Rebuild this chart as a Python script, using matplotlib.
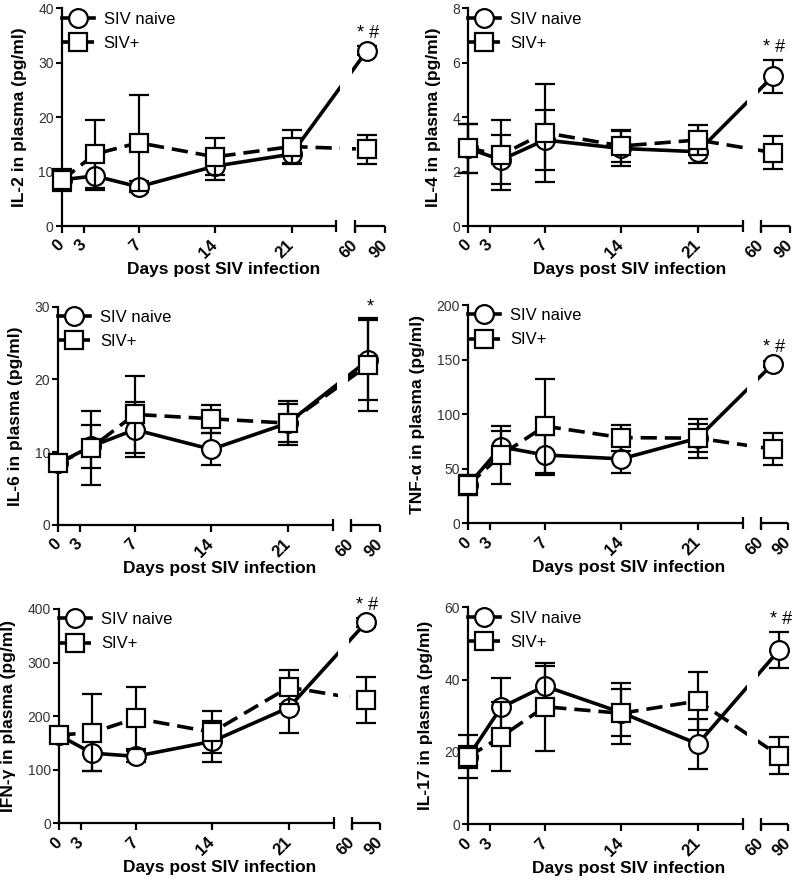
import numpy as np
import matplotlib
matplotlib.use('Agg')
import matplotlib.pyplot as plt
from matplotlib.lines import Line2D

plt.rcParams['font.family'] = ['Liberation Sans', 'DejaVu Sans']

# ---------------- data ----------------
days = [0, 3, 7, 14, 21]
last_day = [72, 72, 78, 73, 75, 80]          # position of the 60-90 day sample per panel
tick_pos = [0, 2, 7, 14, 21, 60, 90]
tick_labels = ['0', '3', '7', '14', '21', '60', '90']

ylabels = ['IL-2 in plasma (pg/ml)', 'IL-4 in plasma (pg/ml)', 'IL-6 in plasma (pg/ml)',
           'TNF-\u03b1 in plasma (pg/ml)', 'IFN-\u03b3 in plasma (pg/ml)', 'IL-17 in plasma (pg/ml)']
ymax = [40, 8, 30, 200, 400, 60]
ystep = [10, 2, 10, 50, 100, 20]
stars = ['* #', '* #', '*', '* #', '* #', '* #']

il2_naive = [8.5, 9.2, 7.2, 11.0, 13.2, 32.2]
il2_naive_err = [1.5, 2.6, 1.0, 2.5, 1.8, 0.8]
il2_pos = [8.4, 13.2, 15.3, 12.7, 14.6, 14.1]
il2_pos_err = [2.0, 6.3, 8.8, 3.4, 3.0, 2.7]

il4_naive = [2.85, 2.43, 3.16, 2.85, 2.73, 5.5]
il4_naive_err = [0.9, 0.9, 1.1, 0.65, 0.4, 0.6]
il4_pos = [2.86, 2.61, 3.43, 2.94, 3.16, 2.7]
il4_pos_err = [0.9, 1.3, 1.8, 0.6, 0.55, 0.6]

il6_naive = [8.5, 10.8, 13.1, 10.4, 14.0, 22.7]
il6_naive_err = [0.8, 3.0, 3.8, 2.2, 2.6, 5.5]
il6_pos = [8.5, 10.6, 15.2, 14.6, 14.0, 22.0]
il6_pos_err = [0.8, 5.1, 5.3, 1.9, 3.0, 6.4]

tnf_naive = [35, 70, 62.6, 59, 78, 146]
tnf_naive_err = [9, 15, 18, 13, 13, 3]
tnf_pos = [35, 62.6, 89, 78.5, 78, 68]
tnf_pos_err = [9, 27, 43, 12, 18, 15]

ifn_naive = [164, 131, 125, 153, 216, 375]
ifn_naive_err = [8, 33, 10, 38, 47, 8]
ifn_pos = [165, 169, 196, 170, 254, 230]
ifn_pos_err = [8, 72, 58, 39, 32, 43]

il17_naive = [18.7, 32.3, 38.2, 30.9, 22.2, 48.2]
il17_naive_err = [6.0, 8.1, 5.5, 6.5, 7.0, 4.9]
il17_pos = [18.7, 24.2, 32.5, 30.7, 34.1, 19.0]
il17_pos_err = [3.0, 9.6, 12.1, 8.5, 8.0, 5.1]

naive_vals = [il2_naive, il4_naive, il6_naive, tnf_naive, ifn_naive, il17_naive]
naive_errs = [il2_naive_err, il4_naive_err, il6_naive_err, tnf_naive_err, ifn_naive_err, il17_naive_err]
pos_vals = [il2_pos, il4_pos, il6_pos, tnf_pos, ifn_pos, il17_pos]
pos_errs = [il2_pos_err, il4_pos_err, il6_pos_err, tnf_pos_err, ifn_pos_err, il17_pos_err]

# ---------------- layout (pixels) ----------------
FW, FH = 800, 886
# left, right, top, bottom of each axes in pixels
boxes = [(62, 385, 8.3, 226), (468.3, 790.5, 8.3, 226),
         (58.3, 380, 306.7, 525), (468.3, 788.3, 305, 523.3),
         (59.3, 380, 609, 823.3), (468.3, 788.3, 607.3, 824.3)]

X1 = 25.1      # end of first segment (days)
PPD = 10.93    # px per day on first segment
GAP = 18.5     # px gap


def make_scale(W):
    s1 = X1 * PPD
    s2 = W - s1 - GAP

    def fwd(d):
        d = np.asarray(d, dtype=float)
        return np.where(d <= X1, d * PPD,
                        np.where(d <= 60, s1 + (d - X1) / (60 - X1) * GAP,
                                 s1 + GAP + (d - 60) / 30.0 * s2))

    def inv(p):
        p = np.asarray(p, dtype=float)
        return np.where(p <= s1, p / PPD,
                        np.where(p <= s1 + GAP, X1 + (p - s1) / GAP * (60 - X1),
                                 60 + (p - s1 - GAP) / s2 * 30.0))
    return fwd, inv


fig = plt.figure(figsize=(FW / 100, FH / 100), dpi=100)

LW = 2.6
MS = 13.5
MEW = 1.6

for i in range(6):
    l, r, t, b = boxes[i]
    W = r - l
    ax = fig.add_axes([l / FW, 1 - b / FH, W / FW, (b - t) / FH])
    fwd, inv = make_scale(W)
    ax.set_xscale('function', functions=(fwd, inv))
    ax.set_xlim(0, 90)
    ax.set_ylim(0, ymax[i])

    x = days + [last_day[i]]
    nv, ne = naive_vals[i], naive_errs[i]
    pv, pe = pos_vals[i], pos_errs[i]

    # connecting lines
    ax.plot(x, nv, color='k', lw=LW, zorder=2, solid_capstyle='butt', clip_on=False)
    ax.plot(x, pv, color='k', lw=LW, zorder=2, dashes=(4.5, 2.2), clip_on=False)
    # hide the lines inside the axis break
    ax.axvspan(32.5, 54.5, color='white', lw=0, zorder=2.5)

    ax.errorbar(x, nv, yerr=ne, fmt='o', ms=MS, mfc='white', mec='k', mew=MEW,
                ecolor='k', elinewidth=1.6, capsize=7.5, capthick=1.6, zorder=3, clip_on=False)
    ax.errorbar(x, pv, yerr=pe, fmt='s', ms=MS - 0.5, mfc='white', mec='k', mew=MEW,
                ecolor='k', elinewidth=1.6, capsize=7.5, capthick=1.6, zorder=4, clip_on=False)

    # significance marks
    ax.annotate(stars[i], (last_day[i], nv[-1] + ne[-1]), xytext=(1, 3), textcoords='offset points',
                ha='center', va='bottom', fontsize=13, zorder=6)

    # axes styling
    for s in ['top', 'right', 'bottom']:
        ax.spines[s].set_visible(False)
    ax.spines['left'].set_linewidth(1.6)
    xt = ax.get_xaxis_transform()
    ax.plot([0, X1], [0, 0], color='k', lw=1.6, transform=xt, clip_on=False,
            solid_capstyle='butt', zorder=5)
    ax.plot([60, 90], [0, 0], color='k', lw=1.6, transform=xt, clip_on=False,
            solid_capstyle='butt', zorder=5)
    ax.plot([X1, 60], [0, 0], ls='none', marker='|', ms=9, mew=1.6, color='k',
            transform=xt, clip_on=False, zorder=5)

    ax.set_xticks(tick_pos)
    ax.set_xticklabels(tick_labels, rotation=45, ha='right', va='center',
                       rotation_mode='anchor', fontweight='bold', fontsize=12)
    ax.tick_params(axis='x', direction='out', length=5, width=1.6, pad=7)
    ax.set_yticks(np.arange(0, ymax[i] + 0.001, ystep[i]))
    ax.tick_params(axis='y', direction='out', length=4, width=1.5, pad=2,
                   labelsize=10, labelcolor='#333333')

    ax.set_xlabel('Days post SIV infection', fontsize=12.5, fontweight='bold', labelpad=1)
    ax.set_ylabel(ylabels[i], fontsize=12.5, fontweight='bold', labelpad=8)

    handles = [Line2D([], [], color='k', lw=LW, marker='o', ms=MS, mfc='white', mec='k', mew=MEW),
               Line2D([], [], color='k', lw=LW, dashes=(4.5, 2.2), marker='s', ms=MS - 0.5,
                      mfc='white', mec='k', mew=MEW)]
    ax.legend(handles, ['SIV naive', 'SIV+'], loc='upper left', bbox_to_anchor=(0.0, 0.985),
              frameon=False, fontsize=12, handlelength=1.9, handletextpad=0.6,
              labelspacing=0.55, borderpad=0, borderaxespad=0)

fig.savefig('out.png', dpi=100)
